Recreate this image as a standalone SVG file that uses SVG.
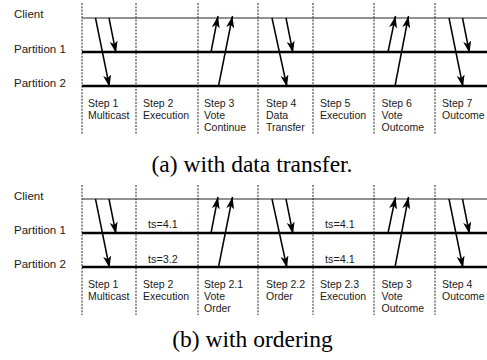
<svg xmlns="http://www.w3.org/2000/svg" width="487" height="360" viewBox="0 0 487 360">
<style>
.lbl{font-family:"Liberation Sans",Arial,sans-serif;font-size:11.5px;fill:#1a1a1a}
.st{font-family:"Liberation Sans",Arial,sans-serif;font-size:10.5px;fill:#1a1a1a}
.ts{font-family:"Liberation Sans",Arial,sans-serif;font-size:10.8px;fill:#1a1a1a}
.cap{font-family:"Liberation Serif","Times New Roman",serif;font-size:23.5px;fill:#000;text-anchor:middle}
.thin{stroke:#222;stroke-width:1;fill:none}
.thick{stroke:#000;stroke-width:2.7;fill:none}
.dash{stroke:#222;stroke-width:1;stroke-dasharray:2,1.3;fill:none}
.arr{stroke:#000;stroke-width:1.5;fill:none;marker-end:url(#ah)}
</style>
<defs>
<marker id="ah" markerUnits="userSpaceOnUse" markerWidth="13" markerHeight="9" refX="12" refY="4" orient="auto" viewBox="0 0 13 9">
<path d="M0,0 L12,4 L0,8 L3,4 z" fill="#000"/>
</marker>
</defs>

<!-- (a) -->
<g id="lanes-a">
<line class="thin" x1="82" y1="18" x2="487" y2="18"/>
<line class="thick" x1="82" y1="52" x2="487" y2="52"/>
<line class="thick" x1="82" y1="86" x2="487" y2="86"/>
<text class="lbl" x="14" y="18">Client</text>
<text class="lbl" x="14" y="53">Partition 1</text>
<text class="lbl" x="14" y="87">Partition 2</text>
</g>
<g id="dividers-a">
<line class="dash" x1="82" y1="3" x2="82" y2="134"/>
<line class="dash" x1="136" y1="3" x2="136" y2="134"/>
<line class="dash" x1="198" y1="3" x2="198" y2="134"/>
<line class="dash" x1="258" y1="3" x2="258" y2="134"/>
<line class="dash" x1="313" y1="3" x2="313" y2="134"/>
<line class="dash" x1="374" y1="3" x2="374" y2="134"/>
<line class="dash" x1="435" y1="3" x2="435" y2="134"/>
</g>
<g id="a-step1"><text class="st" x="88" y="107">Step 1<tspan x="88" y="119">Multicast</tspan></text></g>
<g id="a-step2"><text class="st" x="143" y="107">Step 2<tspan x="143" y="119">Execution</tspan></text></g>
<g id="a-step3"><text class="st" x="204" y="107">Step 3<tspan x="204" y="119">Vote</tspan><tspan x="204" y="131">Continue</tspan></text></g>
<g id="a-step4"><text class="st" x="266" y="107">Step 4<tspan x="266" y="119">Data</tspan><tspan x="266" y="131">Transfer</tspan></text></g>
<g id="a-step5"><text class="st" x="320" y="107">Step 5<tspan x="320" y="119">Execution</tspan></text></g>
<g id="a-step6"><text class="st" x="381.5" y="107">Step 6<tspan x="381.5" y="119">Vote</tspan><tspan x="381.5" y="131">Outcome</tspan></text></g>
<g id="a-step7"><text class="st" x="442" y="107">Step 7<tspan x="442" y="119">Outcome</tspan></text></g>
<g id="connectors-a">
<line class="arr" x1="95.5" y1="18" x2="109.5" y2="87"/>
<line class="arr" x1="109" y1="18" x2="116" y2="53"/>
<line class="arr" x1="211" y1="52" x2="218" y2="16"/>
<line class="arr" x1="218.5" y1="86" x2="232.5" y2="16"/>
<line class="arr" x1="272" y1="18" x2="287" y2="87"/>
<line class="arr" x1="286" y1="18" x2="293" y2="53"/>
<line class="arr" x1="388" y1="52" x2="395.5" y2="16"/>
<line class="arr" x1="395" y1="86" x2="408.5" y2="16"/>
<line class="arr" x1="449" y1="18" x2="463" y2="87"/>
<line class="arr" x1="462.5" y1="18" x2="469.5" y2="53"/>
</g>
<text class="cap" x="252" y="172">(a) with data transfer.</text>

<!-- (b) -->
<g id="lanes-b">
<line class="thin" x1="82" y1="199" x2="487" y2="199"/>
<line class="thick" x1="82" y1="233" x2="487" y2="233"/>
<line class="thick" x1="82" y1="267" x2="487" y2="267"/>
<text class="lbl" x="14" y="200">Client</text>
<text class="lbl" x="14" y="234">Partition 1</text>
<text class="lbl" x="14" y="268">Partition 2</text>
<text class="ts" x="148" y="228">ts=4.1</text>
<text class="ts" x="148" y="263">ts=3.2</text>
<text class="ts" x="325" y="228">ts=4.1</text>
<text class="ts" x="325" y="263">ts=4.1</text>
</g>
<g id="dividers-b">
<line class="dash" x1="82" y1="185" x2="82" y2="315"/>
<line class="dash" x1="136" y1="185" x2="136" y2="315"/>
<line class="dash" x1="198" y1="185" x2="198" y2="315"/>
<line class="dash" x1="258" y1="185" x2="258" y2="315"/>
<line class="dash" x1="313" y1="185" x2="313" y2="315"/>
<line class="dash" x1="374" y1="185" x2="374" y2="315"/>
<line class="dash" x1="435" y1="185" x2="435" y2="315"/>
</g>
<g id="b-step1"><text class="st" x="88" y="288">Step 1<tspan x="88" y="300">Multicast</tspan></text></g>
<g id="b-step2"><text class="st" x="143" y="288">Step 2<tspan x="143" y="300">Execution</tspan></text></g>
<g id="b-step21"><text class="st" x="204" y="288">Step 2.1<tspan x="204" y="300">Vote</tspan><tspan x="204" y="312">Order</tspan></text></g>
<g id="b-step22"><text class="st" x="266" y="288">Step 2.2<tspan x="266" y="300">Order</tspan></text></g>
<g id="b-step23"><text class="st" x="320" y="288">Step 2.3<tspan x="320" y="300">Execution</tspan></text></g>
<g id="b-step3"><text class="st" x="381.5" y="288">Step 3<tspan x="381.5" y="300">Vote</tspan><tspan x="381.5" y="312">Outcome</tspan></text></g>
<g id="b-step4"><text class="st" x="442" y="288">Step 4<tspan x="442" y="300">Outcome</tspan></text></g>
<g id="connectors-b">
<line class="arr" x1="95.5" y1="199" x2="109.5" y2="268"/>
<line class="arr" x1="109" y1="199" x2="116" y2="234"/>
<line class="arr" x1="211" y1="233" x2="218" y2="197"/>
<line class="arr" x1="218.5" y1="267" x2="232.5" y2="197"/>
<line class="arr" x1="272" y1="199" x2="287" y2="268"/>
<line class="arr" x1="286" y1="199" x2="293" y2="234"/>
<line class="arr" x1="388" y1="233" x2="395.5" y2="197"/>
<line class="arr" x1="395" y1="267" x2="408.5" y2="197"/>
<line class="arr" x1="449" y1="199" x2="463" y2="268"/>
<line class="arr" x1="462.5" y1="199" x2="469.5" y2="234"/>
</g>
<text class="cap" x="252.5" y="347">(b) with ordering</text>
</svg>
